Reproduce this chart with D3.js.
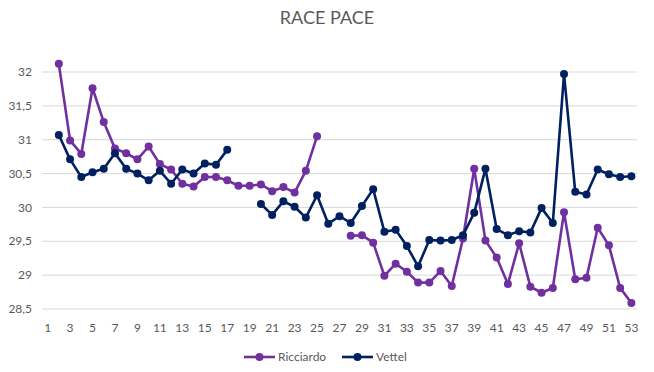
<!DOCTYPE html>
<html>
<head>
<meta charset="utf-8">
<script src="https://cdn.jsdelivr.net/npm/d3@7"></script>
<style>
  body { margin: 0; background: #fff; }
  svg { font-family: Lato, "Liberation Sans", sans-serif; }
</style>
</head>
<body>
<div id="chart"></div>
<script>
// laps 1..53, null = no lap time
const laps = d3.range(1, 54)
const ricciardo = [null, 32.12, 30.99, 30.79, 31.76, 31.26, 30.87, 30.80, 30.71, 30.90,
  30.64, 30.56, 30.35, 30.31, 30.45, 30.45, 30.40, 30.32, 30.32, 30.34,
  30.24, 30.30, 30.22, 30.54, 31.05, null, null, 29.58, 29.59, 29.48,
  28.99, 29.17, 29.05, 28.89, 28.89, 29.06, 28.84, 29.54, 30.57, 29.51,
  29.26, 28.87, 29.47, 28.83, 28.74, 28.81, 29.93, 28.94, 28.96, 29.70,
  29.44, 28.81, 28.59]
const vettel = [null, 31.07, 30.71, 30.45, 30.52, 30.57, 30.80, 30.57, 30.50, 30.40,
  30.54, 30.35, 30.56, 30.50, 30.65, 30.63, 30.85, null, null, 30.05,
  29.89, 30.09, 30.01, 29.85, 30.18, 29.76, 29.87, 29.77, 30.02, 30.27,
  29.64, 29.67, 29.43, 29.13, 29.52, 29.51, 29.52, 29.59, 29.92, 30.57,
  29.68, 29.59, 29.65, 29.63, 29.99, 29.77, 31.97, 30.23, 30.19, 30.56,
  30.49, 30.45, 30.46]
const yTicks = [28.5, 29, 29.5, 30, 30.5, 31, 31.5, 32]

const series = [
  {name: "Ricciardo", values: ricciardo, color: "#7030a0"},
  {name: "Vettel", values: vettel, color: "#002060"}
]

const width = 654, height = 372
const margin = {top: 72, right: 17, bottom: 63, left: 42}

const svg = d3.select("#chart").append("svg")
    .attr("width", width).attr("height", height)

const x = d3.scaleBand().domain(laps).range([margin.left, width - margin.right])
const y = d3.scaleLinear().domain([28.5, 32]).range([height - margin.bottom, margin.top])
const cx = d => x(d) + x.bandwidth() / 2

svg.append("text")
    .attr("x", width / 2).attr("y", 24)
    .attr("text-anchor", "middle")
    .attr("fill", "#595959")
    .style("font-size", "18px")
    .text("RACE PACE")

// gridlines
svg.append("g").selectAll("line")
    .data(yTicks).join("line")
    .attr("x1", margin.left).attr("x2", width - margin.right)
    .attr("y1", d => y(d)).attr("y2", d => y(d))
    .attr("stroke", "#d9d9d9").attr("stroke-width", 1)

const fmt = d => String(d).replace(".", ",")

svg.append("g").selectAll("text")
    .data(yTicks).join("text")
    .attr("x", 32).attr("y", d => y(d))
    .attr("dy", "0.35em")
    .attr("text-anchor", "end")
    .attr("fill", "#595959")
    .style("font-size", "12px")
    .text(fmt)

svg.append("g").selectAll("text")
    .data(laps.filter(d => d % 2 === 1)).join("text")
    .attr("x", cx).attr("y", height - margin.bottom + 23)
    .attr("text-anchor", "middle")
    .attr("fill", "#595959")
    .style("font-size", "12px")
    .text(d => d)

const line = d3.line()
    .defined(d => d.v != null)
    .x(d => cx(d.lap))
    .y(d => y(d.v))

series.forEach(s => {
    const pts = laps.map((lap, i) => ({lap, v: s.values[i]}))
    svg.append("path")
        .datum(pts)
        .attr("fill", "none")
        .attr("stroke", s.color)
        .attr("stroke-width", 2.6)
        .attr("stroke-linejoin", "round")
        .attr("d", line)
    svg.append("g").selectAll("circle")
        .data(pts.filter(d => d.v != null)).join("circle")
        .attr("cx", d => cx(d.lap)).attr("cy", d => y(d.v))
        .attr("r", 4)
        .attr("fill", s.color)
})

// legend
const legend = svg.append("g")
const legX = [244, 342]
series.forEach((s, i) => {
    const g = legend.append("g").attr("transform", `translate(${legX[i]},357)`)
    g.append("line").attr("x1", 0).attr("x2", 31)
        .attr("stroke", s.color).attr("stroke-width", 2.6)
    g.append("circle").attr("cx", 15.5).attr("r", 4).attr("fill", s.color)
    g.append("text").attr("x", 34).attr("dy", "0.35em")
        .attr("fill", "#595959").style("font-size", "12px")
        .text(s.name)
})
</script>
</body>
</html>
